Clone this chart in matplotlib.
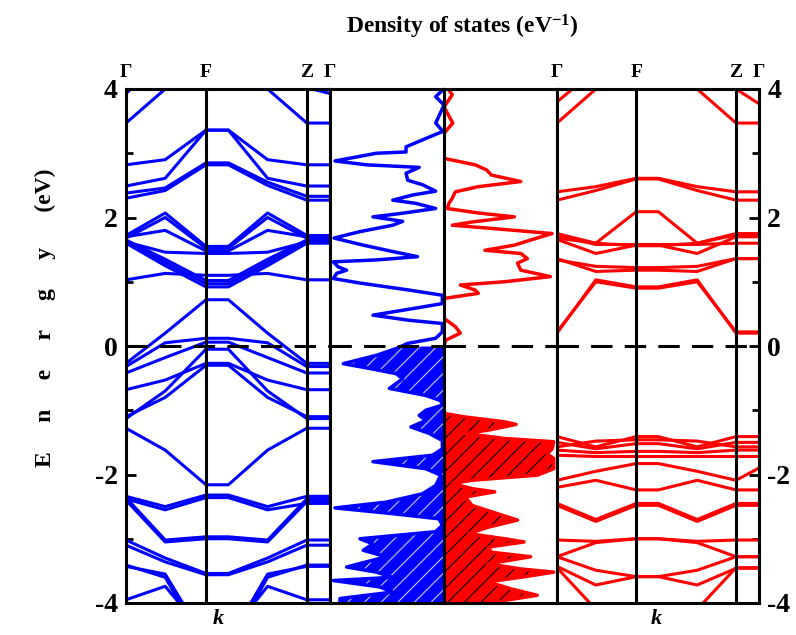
import numpy as np
import matplotlib
matplotlib.use("Agg")
import matplotlib.pyplot as plt

plt.rcParams['font.family'] = ['Liberation Serif', 'DejaVu Serif']
plt.rcParams['hatch.linewidth'] = 0.8
plt.rcParams['mathtext.fontset'] = 'custom'
plt.rcParams['mathtext.rm'] = 'Liberation Serif'
plt.rcParams['mathtext.bf'] = 'Liberation Serif:bold'
plt.rcParams['mathtext.default'] = 'bf'

# ---------------- data ----------------
# k-path nodes: Gamma, mid, F, F', mid, Z, Gamma
k_nodes = [0.0, 0.49, 1.0, 1.28, 1.77, 2.26, 2.55]
k_label_pos = [0.0, 1.0, 2.26, 2.55]
k_labels = ['Γ', 'F', 'Z', 'Γ']

# spin-up bands (eV) at the k nodes
bands_up = [
    [3.93, 4.50, 5.00, 5.00, 4.50, 4.02, 3.93],
    [3.47, 4.00, 4.60, 4.60, 4.00, 3.47, 3.47],
    [2.82, 2.90, 3.36, 3.36, 2.90, 2.82, 2.82],
    [2.49, 2.61, 3.36, 3.36, 2.61, 2.49, 2.49],
    [2.38, 2.46, 2.85, 2.85, 2.55, 2.33, 2.33],
    [2.30, 2.42, 2.82, 2.82, 2.50, 2.27, 2.27],
    [1.72, 2.07, 1.55, 1.55, 2.07, 1.72, 1.72],
    [1.68, 2.00, 1.52, 1.52, 2.00, 1.68, 1.68],
    [1.70, 1.80, 1.48, 1.48, 1.80, 1.70, 1.70],
    [1.62, 1.46, 1.44, 1.44, 1.46, 1.62, 1.62],
    [1.65, 1.35, 1.02, 1.02, 1.35, 1.65, 1.65],
    [1.62, 1.30, 0.97, 0.97, 1.30, 1.62, 1.62],
    [1.60, 1.25, 0.92, 0.92, 1.25, 1.60, 1.60],
    [1.03, 1.13, 1.10, 1.10, 1.13, 1.03, 1.03],
    [-0.27, 0.20, 0.72, 0.72, 0.20, -0.27, -0.27],
    [-0.32, 0.05, 0.12, 0.12, 0.05, -0.32, -0.32],
    [-0.42, -0.18, 0.06, 0.06, -0.18, -0.42, -0.42],
    [-0.68, -0.53, -0.27, -0.27, -0.53, -0.68, -0.68],
    [-1.10, -0.80, -0.30, -0.30, -0.80, -1.10, -1.10],
    [-1.13, -0.70, -0.05, -0.05, -0.70, -1.13, -1.13],
    [-1.28, -1.62, -2.16, -2.16, -1.62, -1.28, -1.28],
    [-2.34, -2.50, -2.32, -2.32, -2.50, -2.34, -2.34],
    [-2.38, -2.55, -2.36, -2.36, -2.55, -2.45, -2.45],
    [-2.36, -3.02, -2.97, -2.97, -3.02, -2.38, -2.38],
    [-2.40, -3.05, -3.00, -3.00, -3.05, -2.42, -2.42],
    [-3.02, -3.30, -3.54, -3.54, -3.30, -3.02, -3.02],
    [-3.10, -3.36, -3.56, -3.56, -3.36, -3.10, -3.10],
    [-3.43, -3.55, -4.60, -4.60, -3.55, -3.43, -3.43],
    [-3.41, -3.60, -4.70, -4.70, -3.60, -3.41, -3.41],
    [-3.95, -3.74, -4.50, -4.50, -3.74, -3.95, -3.95],
]

# spin-down bands (eV) at the k nodes
bands_dn = [
    [3.80, 4.30, 5.00, 5.00, 4.30, 4.00, 3.77],
    [3.47, 4.00, 4.60, 4.60, 4.00, 3.47, 3.47],
    [2.40, 2.48, 2.61, 2.61, 2.48, 2.40, 2.40],
    [2.27, 2.42, 2.60, 2.60, 2.42, 2.27, 2.27],
    [1.68, 1.60, 2.09, 2.09, 1.60, 1.73, 1.73],
    [1.75, 1.60, 1.56, 1.56, 1.60, 1.75, 1.75],
    [1.66, 1.44, 1.57, 1.57, 1.44, 1.70, 1.70],
    [1.72, 1.58, 1.58, 1.58, 1.58, 1.60, 1.60],
    [1.36, 1.16, 1.18, 1.18, 1.16, 1.36, 1.36],
    [1.34, 1.24, 1.22, 1.22, 1.24, 1.36, 1.36],
    [0.20, 1.03, 0.92, 0.92, 1.03, 0.20, 0.20],
    [0.22, 1.00, 0.90, 0.90, 1.00, 0.22, 0.22],
    [-1.41, -1.57, -1.41, -1.41, -1.57, -1.41, -1.41],
    [-1.57, -1.48, -1.46, -1.46, -1.48, -1.57, -1.57],
    [-1.50, -1.60, -1.52, -1.52, -1.60, -1.50, -1.50],
    [-1.62, -1.66, -1.64, -1.64, -1.66, -1.62, -1.62],
    [-1.70, -1.72, -1.72, -1.72, -1.72, -1.72, -1.72],
    [-2.09, -1.95, -1.83, -1.83, -1.95, -2.09, -1.90],
    [-2.20, -2.09, -2.24, -2.24, -2.09, -2.24, -2.24],
    [-2.45, -2.70, -2.45, -2.45, -2.70, -2.45, -2.45],
    [-2.48, -2.73, -2.48, -2.48, -2.73, -2.48, -2.48],
    [-3.02, -3.04, -3.00, -3.00, -3.04, -3.02, -3.02],
    [-3.28, -3.06, -3.00, -3.00, -3.06, -3.28, -3.28],
    [-3.28, -3.49, -3.59, -3.59, -3.49, -3.28, -3.28],
    [-3.43, -3.72, -3.59, -3.59, -3.72, -3.46, -3.46],
    [-3.45, -4.10, -5.00, -5.00, -4.10, -3.45, -3.45],
]

# spin-up DOS (plotted to the left)
dos_up_E = [3.98, 3.88, 3.75, 3.47, 3.34, 3.23, 3.10, 3.02, 3.00, 2.88, 2.82, 2.78,
            2.69, 2.58, 2.51, 2.41, 2.35, 2.27, 2.22, 2.14, 2.06, 2.01, 1.94, 1.88,
            1.78, 1.68, 1.57, 1.47, 1.39, 1.34, 1.31, 1.23, 1.18, 1.13, 1.05, 0.98,
            0.87, 0.79, 0.66, 0.59, 0.48, 0.40, 0.35, 0.22, 0.12, 0.04, 0.00, -0.04,
            -0.145, -0.275, -0.35, -0.43, -0.51, -0.66, -0.77, -0.85, -0.92, -1.00,
            -1.08, -1.16, -1.26, -1.36, -1.47, -1.60, -1.70, -1.80, -1.91, -2.01,
            -2.17, -2.30, -2.43, -2.52, -2.61, -2.69, -2.79, -2.89, -3.00, -3.08,
            -3.18, -3.28, -3.44, -3.52, -3.60, -3.65, -3.75, -3.83, -3.93, -4.04]
dos_up = [0.15, 0.75, 0.0, 0.75, 0.1, 1.64, 3.43, 3.43, 6.1, 9.85, 7.0, 2.24,
          3.43, 3.28, 1.94, 0.75, 2.84, 4.63, 2.54, 0.75, 4.03, 6.42, 3.73, 4.63,
          7.6, 9.94, 7.3, 4.63, 2.39, 6.1, 10.0, 9.55, 8.8, 9.7, 10.0, 7.6,
          3.13, 0.15, 0.15, 2.54, 6.42, 3.13, 0.15, 0.15, 0.75, 3.3, 3.8, 4.33,
          6.1, 9.1, 6.7, 4.33, 3.73, 4.93, 1.64, 0.3, 0.15, 1.64,
          2.24, 1.64, 2.99, 1.34, 0.15, 0.15, 1.04, 6.42, 1.64, 0.3,
          0.75, 1.94, 5.22, 9.85, 4.63, 0.45, 0.15, 0.75, 7.6, 6.42,
          7.3, 5.22, 8.8, 6.1, 4.63, 10.0, 5.82, 4.63, 9.4, 9.4]

# spin-down DOS (plotted to the right)
dos_dn_E = [4.05, 3.91, 3.72, 3.47, 3.31, 2.92, 2.82, 2.74, 2.66, 2.56, 2.48, 2.40,
            2.30, 2.22, 2.14, 2.07, 2.01, 1.93, 1.88, 1.83, 1.75, 1.65, 1.57, 1.49,
            1.44, 1.36, 1.29, 1.18, 1.08, 1.00, 0.95, 0.87, 0.82, 0.74, 0.43, 0.30,
            0.20, 0.09, 0.00, -1.05, -1.105, -1.18, -1.22, -1.31, -1.36, -1.44, -1.49,
            -1.60, -1.68, -1.75, -1.91, -2.01, -2.09, -2.14, -2.22, -2.27, -2.35,
            -2.48, -2.58, -2.71, -2.82, -2.92, -3.00, -3.05, -3.13, -3.21, -3.28,
            -3.39, -3.47, -3.52, -3.60, -3.67, -3.78, -3.88, -3.96, -4.04]
dos_dn = [0.2, 0.75, 0.0, 0.8, 0.0, 0.0, 2.84, 3.88, 4.33, 7.0, 3.13, 1.04,
          0.75, 0.45, 0.3, 3.13, 6.42, 2.54, 0.75, 4.33, 9.85, 7.9, 6.42, 3.73,
          7.0, 7.6, 6.7, 7.0, 9.7, 5.52, 1.49, 2.84, 3.13, 0.0, 0.0, 1.04,
          1.49, 0.15, 0.0, 0.0, 1.94, 5.52, 6.57, 4.03, 1.94, 5.52, 10.0,
          9.85, 9.4, 10.0, 10.0, 8.5, 2.54, 0.75, 2.54, 4.63, 1.94,
          2.54, 4.33, 6.7, 4.03, 2.24, 5.52, 7.3, 4.03, 4.33, 7.9,
          4.03, 7.0, 10.0, 7.0, 4.03, 6.1, 8.5, 5.52, 4.03]

y_ticks = [-4, -2, 0, 2, 4]
y_minor = [-3, -1, 1, 3]

# ---------------- figure ----------------
BLUE = '#0000ff'
RED = '#ff0000'
LW = 2.2
W, Hpx = 796, 635
fig = plt.figure(figsize=(W / 100, Hpx / 100), dpi=100)
bot = (Hpx - 603) / Hpx
hgt = (603 - 89) / Hpx

ax1 = fig.add_axes([126 / W, bot, 204 / W, hgt])
ax2 = fig.add_axes([330 / W, bot, 114 / W, hgt])
ax3 = fig.add_axes([444 / W, bot, 113 / W, hgt])
ax4 = fig.add_axes([557 / W, bot, 202 / W, hgt])

for ax in (ax1, ax2, ax3, ax4):
    ax.set_ylim(-4, 4)
    for s in ax.spines.values():
        s.set_linewidth(LW)
    ax.set_xticks([])
    ax.axhline(0, color='k', lw=LW, ls=(0, (7, 4)), zorder=5)

# band panels
for ax, bands, col, kx in ((ax1, bands_up, BLUE, 0.45), (ax4, bands_dn, RED, 0.49)):
    for b in bands:
        ax.plot(k_nodes, b, color=col, lw=LW, solid_capstyle='butt')
    ax.set_xlim(k_label_pos[0], k_label_pos[-1])
    for kp in k_label_pos[1:-1]:
        ax.axvline(kp, color='k', lw=LW, zorder=4)
    for kp, lab in zip(k_label_pos, k_labels):
        ax.text(kp, 4.12, lab, ha='center', va='bottom', fontsize=14,
                fontweight='bold', transform=ax.transData)
    ax.text(kx, -4.1, 'k', ha='center', va='top', fontsize=16,
            fontweight='bold', fontstyle='italic', transform=ax.get_yaxis_transform())

# DOS panels
Eu = np.array(dos_up_E)
Du = np.array(dos_up)
Ed = np.array(dos_dn_E)
Dd = np.array(dos_dn)

ax2.set_xlim(10.3, 0)
ax2.fill_betweenx(Eu, 0, Du, where=Eu <= 0, color=BLUE, lw=0)
ax2.fill_betweenx(Eu, 0, Du, where=Eu <= 0, facecolor='none', edgecolor='#c8c8ff',
                  hatch='//', lw=0)
ax2.plot(Du, Eu, color=BLUE, lw=2.5)

ax3.set_xlim(0, 10.3)
ax3.fill_betweenx(Ed, 0, Dd, where=Ed <= 0, color=RED, lw=0)
ax3.fill_betweenx(Ed, 0, Dd, where=Ed <= 0, facecolor='none', edgecolor='black',
                  hatch='//', lw=0)
ax3.plot(Dd, Ed, color=RED, lw=2.5)

# y axes
for ax in (ax1, ax2, ax3, ax4):
    ax.set_yticks([])
for ax, side in ((ax1, 'left'), (ax4, 'right')):
    ax.set_yticks(y_ticks)
    ax.set_yticks(y_minor, minor=True)
    ax.set_yticklabels([str(t) for t in y_ticks], fontsize=20, fontweight='bold')
    ax.tick_params(axis='y', which='both', direction='in', width=2,
                   left=(side == 'left'), right=(side == 'right'),
                   labelleft=(side == 'left'), labelright=(side == 'right'))
    ax.tick_params(axis='y', which='major', length=7, pad=6)
    ax.tick_params(axis='y', which='minor', length=5)

fig.text(462 / W, 1 - 27 / Hpx, r'Density of states (eV$^{\mathbf{-1}}$)',
         ha='center', va='center', fontsize=17, fontweight='bold')
fig.text(45 / W, 1 - 318 / Hpx, 'E     n     e     r     g     y      (eV)', rotation=90,
         ha='center', va='center', fontsize=17, fontweight='bold')

fig.savefig('out.png', dpi=100)
